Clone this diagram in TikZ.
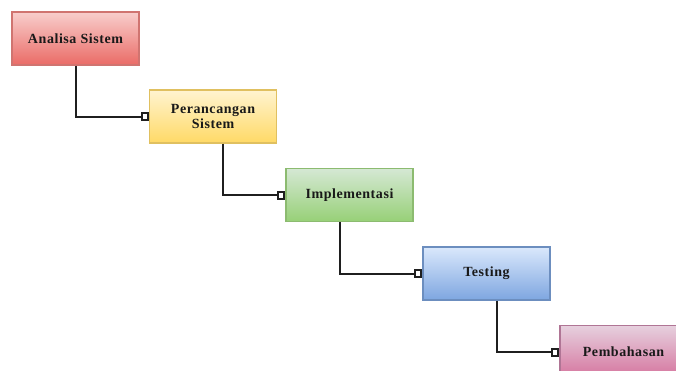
\documentclass[tikz,border=0pt]{standalone}
\usepackage{fontspec}
\setmainfont{Liberation Serif}
\usetikzlibrary{arrows.meta}
\definecolor{redtop}{HTML}{F8CECC}\definecolor{redbot}{HTML}{EA6B66}\definecolor{redline}{HTML}{D07470}
\definecolor{yeltop}{HTML}{FFF4D0}\definecolor{yelbot}{HTML}{FFD966}\definecolor{yelline}{HTML}{E0C060}
\definecolor{grntop}{HTML}{D5E8D4}\definecolor{grnbot}{HTML}{97D077}\definecolor{grnline}{HTML}{8CBB70}
\definecolor{blutop}{HTML}{DAE8FC}\definecolor{blubot}{HTML}{7EA6E0}\definecolor{bluline}{HTML}{6C8EBF}
\definecolor{pnktop}{HTML}{E6D0DE}\definecolor{pnkbot}{HTML}{D5739D}\definecolor{pnkline}{HTML}{B07595}
\tikzset{
  phase/.style={rectangle, minimum width=127pt, minimum height=53pt, line width=1.2pt,
    align=center, font=\fontsize{14}{14.5}\addfontfeatures{LetterSpace=4}\bfseries, text=black!90, inner sep=2pt},
  link/.style={line width=2pt, draw=black!88, -{Square[open,length=8pt,width=9pt]}}
}
\begin{document}
\begin{tikzpicture}[x=1pt,y=-1pt]
\useasboundingbox (0,0) rectangle (676,370);
\clip (0,0) rectangle (676,370);
\node[phase, draw=redline, top color=redtop, bottom color=redbot] (a) at (75.5,38.5) {Analisa Sistem};
\node[phase, draw=yelline, top color=yeltop, bottom color=yelbot] (b) at (213,116.5) {Perancangan\\Sistem};
\node[phase, draw=grnline, top color=grntop, bottom color=grnbot] (c) at (349.5,195) {Implementasi};
\node[phase, draw=bluline, top color=blutop, bottom color=blubot] (d) at (486.5,273.5) {Testing};
\node[phase, draw=pnkline, top color=pnktop, bottom color=pnkbot] (e) at (623.5,352) {Pembahasan};
\draw[link] (a.south) |- (b.west);
\draw[link] ([xshift=10pt]b.south) |- (c.west);
\draw[link] ([xshift=-10pt]c.south) |- (d.west);
\draw[link] ([xshift=10pt]d.south) |- (e.west);
\end{tikzpicture}
\end{document}
